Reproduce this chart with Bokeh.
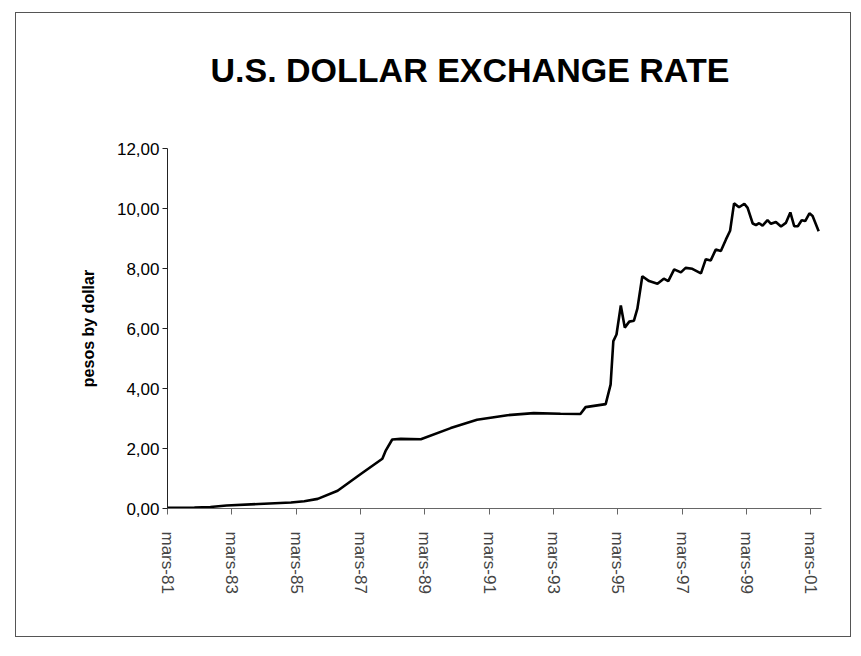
import pandas as pd
from bokeh.plotting import figure
from bokeh.models import FixedTicker, Range1d, ColumnDataSource, Title
from bokeh.embed import file_html
from bokeh.resources import INLINE

# ---- data (pesos per US dollar) ----
dates = [
    "1981-03-01", "1982-01-01", "1982-07-01", "1983-01-01", "1984-01-01",
    "1985-01-01", "1985-06-01", "1985-11-01", "1986-06-15", "1987-03-01",
    "1987-11-05", "1987-12-15", "1988-02-25", "1988-06-01", "1989-01-15",
    "1989-12-20", "1990-10-15", "1991-09-25", "1992-07-20", "1993-05-20",
    "1994-01-01", "1994-03-01", "1994-10-15", "1994-12-10",
    "1995-01-10", "1995-02-15", "1995-04-05", "1995-05-20", "1995-07-10",
    "1995-09-01", "1995-10-10", "1995-12-05", "1996-02-20", "1996-05-25",
    "1996-08-05", "1996-09-25", "1996-12-01", "1997-02-15", "1997-04-10",
    "1997-06-25", "1997-10-01", "1997-11-25", "1998-01-20", "1998-03-18",
    "1998-05-15", "1998-07-12", "1998-08-28", "1998-10-12", "1998-12-08",
    "1999-02-06", "1999-03-15", "1999-05-12", "1999-06-18", "1999-07-24",
    "1999-09-01", "1999-10-27", "1999-12-05", "2000-01-30", "2000-03-28",
    "2000-05-22", "2000-07-12", "2000-08-25", "2000-10-05", "2000-11-18",
    "2000-12-28", "2001-02-14", "2001-03-22", "2001-05-30",
]
rates = [
    0.02, 0.03, 0.05, 0.10, 0.15,
    0.20, 0.24, 0.32, 0.59, 1.14,
    1.66, 1.94, 2.30, 2.32, 2.31,
    2.68, 2.96, 3.11, 3.18, 3.16,
    3.15, 3.38, 3.48, 4.13,
    5.58, 5.80, 6.77, 6.03, 6.23,
    6.26, 6.66, 7.74, 7.58, 7.49,
    7.66, 7.58, 7.97, 7.87, 8.02,
    7.99, 7.84, 8.31, 8.27, 8.63,
    8.58, 8.97, 9.26, 10.17, 10.04,
    10.16, 10.02, 9.50, 9.45, 9.51,
    9.43, 9.61, 9.49, 9.55, 9.40,
    9.52, 9.87, 9.41, 9.41, 9.61,
    9.58, 9.84, 9.75, 9.24,
]

x_tick_dates = ["1981-03-01", "1983-03-01", "1985-03-01", "1987-03-01",
                "1989-03-01", "1991-03-01", "1993-03-01", "1995-03-01",
                "1997-03-01", "1999-03-01", "2001-03-01"]
x_tick_labels = ["mars-81", "mars-83", "mars-85", "mars-87", "mars-89",
                 "mars-91", "mars-93", "mars-95", "mars-97", "mars-99",
                 "mars-01"]
y_ticks = [0, 2, 4, 6, 8, 10, 12]
y_tick_labels = ["0,00", "2,00", "4,00", "6,00", "8,00", "10,00", "12,00"]

title_text = "U.S. DOLLAR EXCHANGE RATE"
y_label = "pesos by dollar"

# ---- figure ----
src = ColumnDataSource(dict(x=pd.to_datetime(dates), y=rates))

x_start = pd.Timestamp("1981-03-01")
x_end = pd.Timestamp("2001-07-01")

p = figure(width=836, height=625, x_axis_type="datetime",
           output_backend="svg", toolbar_location=None,
           x_range=Range1d(x_start, x_end), y_range=Range1d(0, 12),
           min_border_left=151, min_border_right=31,
           min_border_top=135, min_border_bottom=130,
           title=title_text)

p.line("x", "y", source=src, line_color="black", line_width=2.6)

FONT = "Liberation Sans"

p.title.text_font = FONT
p.title.text_font_size = "34px"
p.title.text_font_style = "bold"
p.title.text_color = "black"
p.title.align = "left"
p.title.offset = 43
p.title.vertical_align = "top"
p.title.standoff = 74

# blank spacer between the title and the plot area
p.add_layout(Title(text=" ", text_font_size="10px", standoff=8), "above")

p.outline_line_color = None
p.xgrid.grid_line_color = None
p.ygrid.grid_line_color = None
p.background_fill_color = "white"
p.border_fill_color = "white"
p.styles = {"border": "1px solid #555555", "margin-left": "15px",
            "margin-top": "12px"}

tick_ms = [int(v) for v in pd.to_datetime(x_tick_dates).astype("int64") // 10**6]
p.xaxis.ticker = FixedTicker(ticks=tick_ms)
p.xaxis.major_label_overrides = {t: l for t, l in zip(tick_ms, x_tick_labels)}
p.xaxis.major_label_orientation = "vertical"
p.xaxis.major_label_text_font = FONT
p.xaxis.major_label_text_font_size = "17px"
p.xaxis.major_label_text_color = "#444444"
p.xaxis.major_label_standoff = 17
p.xaxis.major_tick_in = 0
p.xaxis.major_tick_out = 6
p.xaxis.minor_tick_line_color = None
p.xaxis.axis_line_color = "#666666"
p.xaxis.major_tick_line_color = "#666666"

p.yaxis.ticker = FixedTicker(ticks=y_ticks)
p.yaxis.major_label_overrides = {t: l for t, l in zip(y_ticks, y_tick_labels)}
p.yaxis.major_label_text_font = FONT
p.yaxis.major_label_text_font_size = "17px"
p.yaxis.major_label_text_color = "black"
p.yaxis.major_label_standoff = 3
p.yaxis.major_tick_in = 0
p.yaxis.major_tick_out = 5
p.yaxis.minor_tick_line_color = None
p.yaxis.axis_line_color = "#222222"
p.yaxis.major_tick_line_color = "#222222"
p.yaxis.axis_label = y_label
p.yaxis.axis_label_text_font = FONT
p.yaxis.axis_label_text_font_size = "16px"
p.yaxis.axis_label_text_font_style = "bold"
p.yaxis.axis_label_text_color = "black"
p.yaxis.axis_label_standoff = 17

open("out.html", "w").write(file_html(p, INLINE))
